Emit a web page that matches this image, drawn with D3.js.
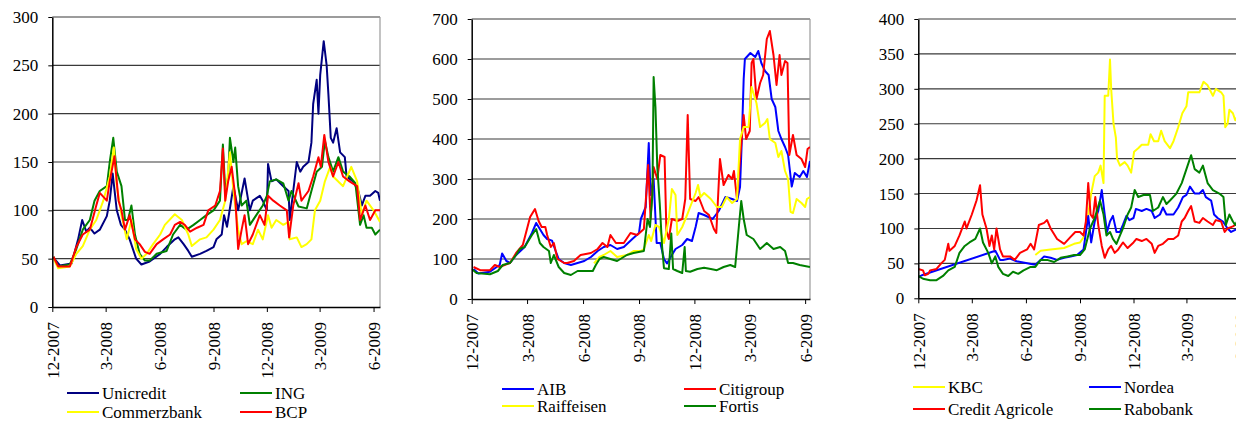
<!DOCTYPE html>
<html><head><meta charset="utf-8">
<script src="https://cdn.jsdelivr.net/npm/d3@7"></script>
<style>
body{margin:0;background:#fff;}
svg text{font-family:'Liberation Serif','Times New Roman',serif;fill:#000;}
</style>
</head><body>
<svg id="chart" width="1236" height="421"></svg>
<script>
// ---------- DATA ----------
const tickDates = ["2007-12-01","2008-03-01","2008-06-01","2008-09-01","2008-12-01","2009-03-01","2009-06-01"];
const tickLabels = ["12-2007","3-2008","6-2008","9-2008","12-2008","3-2009","6-2009"];
const yTicks1 = [0,50,100,150,200,250,300];
const yTicks2 = [0,100,200,300,400,500,600,700];
const yTicks3 = [0,50,100,150,200,250,300,350,400];

const names1 = ["Unicredit","ING","Commerzbank","BCP"];
const names2 = ["AIB","Citigroup","Raiffeisen","Fortis"];
const names3 = ["KBC","Nordea","Credit Agricole","Rabobank"];

const unicredit = [["2007-12-03",51],["2007-12-14",43],["2008-01-03",45],["2008-01-14",70],["2008-01-21",90],["2008-01-28",78],["2008-02-03",82],["2008-02-11",76],["2008-02-20",80],["2008-03-03",94],["2008-03-08",110],["2008-03-13",138],["2008-03-20",100],["2008-03-27",85],["2008-04-03",80],["2008-04-11",70],["2008-04-22",50],["2008-05-01",44],["2008-05-15",47],["2008-06-02",55],["2008-06-13",62],["2008-06-27",70],["2008-07-03",72],["2008-07-12",65],["2008-07-20",58],["2008-07-26",52],["2008-08-09",55],["2008-08-20",58],["2008-09-01",62],["2008-09-06",70],["2008-09-15",75],["2008-09-19",95],["2008-09-24",83],["2008-10-05",125],["2008-10-13",100],["2008-10-24",133],["2008-11-02",100],["2008-11-07",110],["2008-11-19",115],["2008-11-24",110],["2008-12-01",100],["2008-12-03",148],["2008-12-09",130],["2008-12-17",132],["2008-12-29",125],["2009-01-07",120],["2009-01-09",90],["2009-01-15",120],["2009-01-21",150],["2009-01-27",140],["2009-02-01",145],["2009-02-10",150],["2009-02-15",170],["2009-02-18",210],["2009-02-24",235],["2009-02-27",200],["2009-03-02",240],["2009-03-08",275],["2009-03-13",250],["2009-03-16",220],["2009-03-20",175],["2009-03-24",170],["2009-03-30",185],["2009-04-05",160],["2009-04-13",155],["2009-04-16",135],["2009-04-27",130],["2009-05-06",120],["2009-05-12",105],["2009-05-18",115],["2009-05-26",115],["2009-06-04",120],["2009-06-09",118],["2009-06-12",110]];
const ing = [["2007-12-03",52],["2007-12-11",42],["2007-12-31",44],["2008-01-11",60],["2008-01-22",80],["2008-02-03",90],["2008-02-11",110],["2008-02-20",120],["2008-03-03",125],["2008-03-08",150],["2008-03-14",175],["2008-03-20",140],["2008-03-28",125],["2008-04-03",90],["2008-04-08",90],["2008-04-14",105],["2008-04-20",75],["2008-04-28",55],["2008-05-07",48],["2008-05-15",48],["2008-05-27",55],["2008-06-13",58],["2008-06-24",75],["2008-07-06",85],["2008-07-17",80],["2008-07-29",85],["2008-08-09",90],["2008-08-20",95],["2008-09-01",100],["2008-09-12",110],["2008-09-17",168],["2008-09-21",120],["2008-09-26",135],["2008-09-29",175],["2008-10-05",150],["2008-10-08",165],["2008-10-13",125],["2008-10-19",105],["2008-10-27",110],["2008-11-02",85],["2008-11-13",95],["2008-11-24",105],["2008-12-01",115],["2008-12-06",130],["2008-12-17",132],["2008-12-29",128],["2009-01-07",110],["2009-01-12",120],["2009-01-24",104],["2009-02-07",102],["2009-02-15",120],["2009-02-24",140],["2009-03-05",145],["2009-03-10",172],["2009-03-16",155],["2009-03-24",140],["2009-04-02",155],["2009-04-10",140],["2009-04-21",135],["2009-05-01",128],["2009-05-09",85],["2009-05-15",95],["2009-05-20",82],["2009-05-29",82],["2009-06-04",75],["2009-06-12",80]];
const commerzbank = [["2007-12-03",50],["2007-12-11",40],["2007-12-31",42],["2008-01-11",55],["2008-01-22",63],["2008-02-03",80],["2008-02-14",90],["2008-02-26",110],["2008-03-08",135],["2008-03-15",165],["2008-03-20",125],["2008-03-28",95],["2008-04-06",70],["2008-04-14",90],["2008-04-22",60],["2008-05-01",50],["2008-05-10",55],["2008-05-21",65],["2008-06-02",75],["2008-06-10",85],["2008-06-27",96],["2008-07-09",90],["2008-07-20",75],["2008-07-26",63],["2008-08-09",70],["2008-08-20",72],["2008-09-01",80],["2008-09-12",90],["2008-09-21",110],["2008-09-29",160],["2008-10-05",120],["2008-10-13",80],["2008-10-19",65],["2008-10-27",68],["2008-11-07",65],["2008-11-16",80],["2008-11-24",70],["2008-12-03",95],["2008-12-09",82],["2008-12-17",90],["2008-12-29",85],["2009-01-07",88],["2009-01-09",70],["2009-01-21",72],["2009-01-29",62],["2009-02-07",65],["2009-02-15",70],["2009-02-21",100],["2009-03-02",110],["2009-03-10",130],["2009-03-19",145],["2009-03-24",135],["2009-04-10",125],["2009-04-24",145],["2009-05-04",130],["2009-05-12",95],["2009-05-20",110],["2009-06-01",100],["2009-06-12",88]];
const bcp = [["2007-12-03",52],["2007-12-11",42],["2007-12-31",42],["2008-01-11",62],["2008-01-22",75],["2008-02-03",80],["2008-02-14",105],["2008-02-20",118],["2008-03-03",110],["2008-03-08",130],["2008-03-16",156],["2008-03-23",110],["2008-03-28",100],["2008-04-03",80],["2008-04-11",95],["2008-04-20",70],["2008-04-28",65],["2008-05-07",57],["2008-05-15",55],["2008-05-27",65],["2008-06-07",70],["2008-06-19",75],["2008-06-27",85],["2008-07-06",88],["2008-07-14",85],["2008-07-23",78],["2008-08-04",82],["2008-08-15",85],["2008-08-23",100],["2008-09-04",105],["2008-09-12",120],["2008-09-17",164],["2008-09-21",110],["2008-09-26",130],["2008-10-02",145],["2008-10-08",115],["2008-10-13",60],["2008-10-19",80],["2008-10-24",95],["2008-10-30",65],["2008-11-07",75],["2008-11-19",95],["2008-11-27",85],["2008-12-03",115],["2008-12-12",110],["2008-12-23",105],["2009-01-04",100],["2009-01-08",72],["2009-01-15",105],["2009-01-24",128],["2009-01-29",110],["2009-02-10",120],["2009-02-18",135],["2009-02-27",155],["2009-03-03",145],["2009-03-09",178],["2009-03-16",150],["2009-03-24",135],["2009-04-02",150],["2009-04-10",135],["2009-04-21",130],["2009-05-04",125],["2009-05-09",90],["2009-05-18",105],["2009-05-26",90],["2009-06-04",100],["2009-06-12",100]];

const aib = [["2007-12-04",75],["2007-12-12",64],["2007-12-31",68],["2008-01-11",80],["2008-01-16",85],["2008-01-20",114],["2008-01-27",95],["2008-02-02",90],["2008-02-12",110],["2008-02-26",130],["2008-03-09",165],["2008-03-16",190],["2008-03-22",175],["2008-03-28",160],["2008-04-03",150],["2008-04-11",146],["2008-04-17",120],["2008-04-22",100],["2008-05-01",90],["2008-05-12",85],["2008-05-23",90],["2008-06-03",95],["2008-06-14",105],["2008-06-25",120],["2008-07-05",130],["2008-07-16",135],["2008-07-27",125],["2008-08-07",130],["2008-08-21",150],["2008-09-01",165],["2008-09-04",200],["2008-09-12",230],["2008-09-17",390],["2008-09-20",260],["2008-09-25",300],["2008-09-30",140],["2008-10-06",140],["2008-10-12",100],["2008-10-17",89],["2008-10-25",110],["2008-10-31",125],["2008-11-11",135],["2008-11-19",150],["2008-11-27",145],["2008-12-03",180],["2008-12-08",215],["2008-12-17",210],["2008-12-31",200],["2009-01-10",220],["2009-01-21",255],["2009-02-01",250],["2009-02-09",245],["2009-02-14",280],["2009-02-17",400],["2009-02-20",550],["2009-02-22",600],["2009-03-03",615],["2009-03-11",605],["2009-03-16",620],["2009-03-21",590],["2009-03-27",570],["2009-04-02",560],["2009-04-07",500],["2009-04-13",480],["2009-04-18",420],["2009-04-23",400],["2009-04-29",380],["2009-05-04",360],["2009-05-10",281],["2009-05-15",315],["2009-05-23",305],["2009-05-29",320],["2009-06-04",305],["2009-06-09",345]];
const citigroup = [["2007-12-04",80],["2007-12-15",72],["2007-12-31",72],["2008-01-08",85],["2008-01-16",80],["2008-01-24",85],["2008-02-02",90],["2008-02-12",115],["2008-02-23",135],["2008-03-06",205],["2008-03-14",225],["2008-03-20",195],["2008-03-25",180],["2008-03-31",180],["2008-04-03",160],["2008-04-09",130],["2008-04-14",140],["2008-04-20",100],["2008-05-01",90],["2008-05-06",90],["2008-05-17",95],["2008-05-28",110],["2008-06-14",115],["2008-06-25",125],["2008-07-03",140],["2008-07-11",130],["2008-07-16",160],["2008-07-25",140],["2008-08-07",140],["2008-08-18",165],["2008-08-29",160],["2008-09-09",175],["2008-09-16",335],["2008-09-20",200],["2008-09-25",330],["2008-10-01",300],["2008-10-06",360],["2008-10-13",355],["2008-10-16",170],["2008-10-20",150],["2008-10-25",200],["2008-11-03",195],["2008-11-11",200],["2008-11-16",250],["2008-11-20",460],["2008-11-24",250],["2008-12-03",245],["2008-12-08",255],["2008-12-17",220],["2008-12-25",210],["2009-01-02",175],["2009-01-06",165],["2009-01-12",350],["2009-01-18",285],["2009-01-26",310],["2009-02-01",300],["2009-02-04",320],["2009-02-09",250],["2009-02-14",350],["2009-02-20",460],["2009-02-24",400],["2009-03-02",420],["2009-03-05",590],["2009-03-08",600],["2009-03-13",500],["2009-03-19",540],["2009-03-24",560],["2009-03-30",650],["2009-04-04",670],["2009-04-10",610],["2009-04-15",535],["2009-04-20",610],["2009-04-23",560],["2009-04-29",595],["2009-05-03",590],["2009-05-06",360],["2009-05-12",410],["2009-05-18",360],["2009-05-26",350],["2009-06-01",330],["2009-06-05",375],["2009-06-09",380]];
const raiffeisen = [["2008-06-19",89],["2008-06-28",105],["2008-07-05",110],["2008-07-16",120],["2008-07-27",105],["2008-08-12",110],["2008-08-23",120],["2008-09-04",120],["2008-09-09",125],["2008-09-17",160],["2008-09-21",145],["2008-09-28",185],["2008-10-04",180],["2008-10-12",140],["2008-10-20",200],["2008-10-25",275],["2008-10-31",260],["2008-11-03",160],["2008-11-11",180],["2008-11-19",210],["2008-11-24",230],["2008-12-03",265],["2008-12-07",285],["2008-12-11",255],["2008-12-17",265],["2008-12-28",250],["2009-01-07",230],["2009-01-15",230],["2009-01-23",255],["2009-02-01",240],["2009-02-09",250],["2009-02-14",400],["2009-02-20",430],["2009-02-28",430],["2009-03-05",530],["2009-03-13",490],["2009-03-19",430],["2009-03-27",440],["2009-03-31",450],["2009-04-04",400],["2009-04-13",390],["2009-04-18",355],["2009-04-23",370],["2009-04-29",320],["2009-05-04",300],["2009-05-08",218],["2009-05-12",215],["2009-05-18",250],["2009-05-26",240],["2009-06-01",230],["2009-06-04",250],["2009-06-09",255]];
const fortis = [["2007-12-01",75],["2007-12-09",65],["2007-12-31",62],["2008-01-13",70],["2008-01-21",85],["2008-02-02",90],["2008-02-12",110],["2008-02-18",125],["2008-02-26",130],["2008-03-09",160],["2008-03-16",175],["2008-03-22",140],["2008-03-28",130],["2008-04-06",120],["2008-04-09",90],["2008-04-14",110],["2008-04-22",80],["2008-05-01",65],["2008-05-12",60],["2008-05-23",70],["2008-06-03",70],["2008-06-17",70],["2008-06-22",85],["2008-06-28",100],["2008-07-05",105],["2008-07-16",100],["2008-07-27",95],["2008-08-12",110],["2008-08-23",115],["2008-09-09",120],["2008-09-15",200],["2008-09-19",180],["2008-09-23",260],["2008-09-25",555],["2008-09-28",480],["2008-10-01",330],["2008-10-05",240],["2008-10-09",130],["2008-10-12",77],["2008-10-20",75],["2008-10-24",164],["2008-10-27",75],["2008-11-03",70],["2008-11-11",65],["2008-11-15",130],["2008-11-17",70],["2008-11-24",68],["2008-12-06",75],["2008-12-17",78],["2008-12-28",75],["2009-01-07",72],["2009-01-18",80],["2009-01-29",85],["2009-02-06",80],["2009-02-12",180],["2009-02-16",245],["2009-02-20",200],["2009-02-25",160],["2009-03-08",150],["2009-03-19",125],["2009-03-30",140],["2009-04-10",125],["2009-04-21",130],["2009-04-29",120],["2009-05-04",90],["2009-05-12",90],["2009-05-23",85],["2009-06-09",80]];

const kbc = [["2008-06-17",62],["2008-06-26",68],["2008-07-13",70],["2008-08-05",72],["2008-08-22",78],["2008-09-01",80],["2008-09-09",90],["2008-09-15",120],["2008-09-20",150],["2008-09-26",175],["2008-10-02",180],["2008-10-06",190],["2008-10-11",165],["2008-10-13",290],["2008-10-19",290],["2008-10-22",342],["2008-10-24",300],["2008-10-28",250],["2008-11-01",230],["2008-11-03",200],["2008-11-08",190],["2008-11-16",195],["2008-11-21",190],["2008-11-27",180],["2008-12-02",210],["2008-12-09",215],["2008-12-15",220],["2008-12-26",220],["2008-12-30",235],["2009-01-05",225],["2009-01-12",225],["2009-01-17",240],["2009-01-23",225],["2009-02-01",215],["2009-02-07",225],["2009-02-15",245],["2009-02-22",265],["2009-03-01",275],["2009-03-04",295],["2009-03-12",295],["2009-03-23",295],["2009-03-30",310],["2009-04-06",305],["2009-04-15",290],["2009-04-20",300],["2009-04-29",295],["2009-05-03",290],["2009-05-06",245],["2009-05-10",250],["2009-05-13",270],["2009-05-19",265],["2009-05-23",255],["2009-06-01",268],["2009-06-12",265]];
const nordea = [["2007-12-01",30],["2007-12-07",33],["2008-04-10",68],["2008-04-12",65],["2008-04-18",55],["2008-04-23",55],["2008-05-05",57],["2008-05-16",53],["2008-06-17",48],["2008-06-26",55],["2008-07-02",60],["2008-07-13",58],["2008-07-24",55],["2008-08-05",58],["2008-08-16",60],["2008-08-27",62],["2008-09-07",70],["2008-09-15",118],["2008-09-20",80],["2008-09-26",110],["2008-10-02",125],["2008-10-08",155],["2008-10-13",120],["2008-10-17",95],["2008-10-22",110],["2008-10-27",118],["2008-11-02",95],["2008-11-08",95],["2008-11-13",105],["2008-11-19",118],["2008-11-24",112],["2008-12-01",115],["2008-12-05",128],["2008-12-15",125],["2008-12-23",128],["2009-01-01",125],["2009-01-06",115],["2009-01-15",120],["2009-01-20",130],["2009-01-26",120],["2009-02-07",120],["2009-02-15",130],["2009-02-23",145],["2009-03-01",148],["2009-03-07",160],["2009-03-15",150],["2009-03-23",150],["2009-03-29",155],["2009-04-03",145],["2009-04-12",140],["2009-04-17",120],["2009-04-23",115],["2009-05-02",110],["2009-05-10",100],["2009-05-16",95],["2009-05-23",98],["2009-06-12",100]];
const creditAgricole = [["2007-12-01",42],["2007-12-09",40],["2007-12-12",33],["2007-12-18",35],["2007-12-21",40],["2008-01-01",42],["2008-01-09",50],["2008-01-15",55],["2008-01-21",78],["2008-01-23",68],["2008-02-01",75],["2008-02-09",90],["2008-02-18",110],["2008-02-21",100],["2008-03-01",120],["2008-03-09",140],["2008-03-15",162],["2008-03-19",120],["2008-03-26",100],["2008-03-31",75],["2008-04-04",90],["2008-04-08",70],["2008-04-12",100],["2008-04-18",70],["2008-04-23",60],["2008-05-05",60],["2008-05-13",55],["2008-05-22",65],["2008-06-03",70],["2008-06-09",78],["2008-06-15",70],["2008-06-23",105],["2008-07-02",108],["2008-07-07",112],["2008-07-13",100],["2008-07-24",85],["2008-08-05",78],["2008-08-16",88],["2008-08-24",95],["2008-09-01",95],["2008-09-07",90],["2008-09-11",110],["2008-09-15",165],["2008-09-19",120],["2008-09-23",115],["2008-09-27",145],["2008-10-02",105],["2008-10-08",75],["2008-10-13",58],["2008-10-19",70],["2008-10-24",75],["2008-10-30",65],["2008-11-05",70],["2008-11-13",80],["2008-11-21",72],["2008-12-01",80],["2008-12-06",85],["2008-12-15",82],["2008-12-23",85],["2009-01-01",78],["2009-01-06",65],["2009-01-12",75],["2009-01-20",78],["2009-01-29",85],["2009-02-07",85],["2009-02-15",90],["2009-02-21",110],["2009-02-26",115],["2009-03-04",125],["2009-03-09",132],["2009-03-15",110],["2009-03-23",108],["2009-03-29",115],["2009-04-06",110],["2009-04-15",105],["2009-04-20",112],["2009-04-29",110],["2009-05-05",95],["2009-05-10",100],["2009-05-19",103],["2009-05-23",105],["2009-06-12",105]];
const rabobank = [["2007-12-01",32],["2007-12-09",28],["2007-12-21",26],["2008-01-01",26],["2008-01-12",32],["2008-01-21",40],["2008-02-01",45],["2008-02-09",65],["2008-02-18",75],["2008-02-26",80],["2008-03-07",85],["2008-03-15",100],["2008-03-20",80],["2008-03-29",65],["2008-04-04",50],["2008-04-10",60],["2008-04-15",45],["2008-04-23",35],["2008-05-02",32],["2008-05-10",38],["2008-05-19",35],["2008-05-28",40],["2008-06-09",45],["2008-06-17",45],["2008-06-26",55],["2008-07-07",55],["2008-07-19",52],["2008-07-30",58],["2008-08-11",60],["2008-08-22",62],["2008-09-01",62],["2008-09-09",70],["2008-09-18",100],["2008-09-26",115],["2008-10-05",140],["2008-10-11",120],["2008-10-16",90],["2008-10-22",95],["2008-10-27",85],["2008-11-02",78],["2008-11-08",90],["2008-11-13",100],["2008-11-21",120],["2008-11-27",130],["2008-12-03",155],["2008-12-09",145],["2008-12-18",148],["2008-12-29",148],["2009-01-03",125],["2009-01-12",130],["2009-01-20",145],["2009-01-26",135],["2009-02-01",140],["2009-02-12",150],["2009-02-21",165],["2009-03-01",185],["2009-03-09",205],["2009-03-15",185],["2009-03-23",180],["2009-03-29",190],["2009-04-06",165],["2009-04-15",155],["2009-04-26",150],["2009-05-03",145],["2009-05-07",105],["2009-05-13",120],["2009-05-19",110],["2009-05-23",105],["2009-06-01",120],["2009-06-05",105],["2009-06-12",105]];

const colors1 = ["#000080","#008000","#ffff00","#ff0000"];
const colors2 = ["#0000ff","#ff0000","#ffff00","#008000"];
const colors3 = ["#ffff00","#0000ff","#ff0000","#008000"];

// ---------- DRAW ----------
const FONT = "'Liberation Serif', 'Times New Roman', serif";
const parse = d3.timeParse("%Y-%m-%d");
const svg = d3.select("#chart");

const panels = [
  {left:52.3, right:380, top:17, bottom:307, yTicks:yTicks1, end:"2009-06-12", border:true,
   names:names1, colors:colors1, data:[unicredit,ing,commerzbank,bcp], legX:[67,240], legY:[393,412]},
  {left:471.7, right:810, top:19, bottom:299, yTicks:yTicks2, end:"2009-06-09", border:true,
   names:names2, colors:colors2, data:[aib,citigroup,raiffeisen,fortis], legX:[502,684], legY:[389,406]},
  {left:918.3, right:1247, top:19, bottom:298.3, yTicks:yTicks3, end:"2009-06-12", border:false,
   names:names3, colors:colors3, data:[kbc,nordea,creditAgricole,rabobank], legX:[913,1089], legY:[387,409]}
];

panels.forEach((p, pi) => {
  const x = d3.scaleTime().domain([parse("2007-12-01"), parse(p.end)]).range([p.left, p.right]);
  const yMax = d3.max(p.yTicks);
  const y = d3.scaleLinear().domain([0, yMax]).range([p.bottom, p.top]);
  const g = svg.append("g");

  g.selectAll("line.grid").data(p.yTicks.filter(v => v > 0)).join("line")
    .attr("x1", p.left).attr("x2", p.right)
    .attr("y1", d => y(d)).attr("y2", d => y(d))
    .attr("stroke", "#3a3a3a").attr("stroke-width", 1.1);

  if (p.border) {
    g.append("line").attr("x1", p.right).attr("x2", p.right)
      .attr("y1", p.top).attr("y2", p.bottom)
      .attr("stroke", "#9a9a9a").attr("stroke-width", 1.2);
  }

  const cid = "clip" + pi;
  svg.append("clipPath").attr("id", cid).append("rect")
    .attr("x", p.left).attr("y", p.top - 5).attr("width", p.right - p.left).attr("height", p.bottom - p.top + 5);

  const line = d3.line().x(d => x(parse(d[0]))).y(d => y(d[1]));
  p.data.forEach((s, i) => {
    g.append("path").attr("d", line(s)).attr("fill", "none")
      .attr("stroke", p.colors[i]).attr("stroke-width", 2)
      .attr("stroke-linejoin", "round")
      .attr("clip-path", `url(#${cid})`);
  });

  const ya = g.append("g").attr("transform", `translate(${p.left},0)`)
    .call(d3.axisLeft(y).tickValues(p.yTicks).tickSize(4).tickSizeOuter(0).tickPadding(10).tickFormat(d3.format("d")));
  ya.attr("font-family", FONT).attr("font-size", 17);
  ya.selectAll("text").style("font-family", FONT).style("font-size", "17px");
  ya.selectAll("line").attr("stroke", "#000");
  ya.select(".domain").attr("stroke", "#000").attr("stroke-width", 1.5);

  const xa = g.append("g").attr("transform", `translate(0,${p.bottom})`)
    .call(d3.axisBottom(x).tickValues(tickDates.map(parse)).tickSize(5).tickSizeOuter(0)
      .tickFormat((d, i) => tickLabels[i]));
  xa.attr("font-family", FONT).attr("font-size", 17);
  xa.select(".domain").attr("stroke", "#000").attr("stroke-width", 1.5);
  xa.selectAll("line").attr("stroke", "#000");
  xa.selectAll("text")
    .style("font-family", FONT).style("font-size", "17px")
    .attr("text-anchor", "end")
    .attr("transform", "rotate(-90)")
    .attr("x", -15).attr("y", 0).attr("dy", "0.35em");

  p.names.forEach((n, i) => {
    const lx = p.legX[i % 2], ly = p.legY[Math.floor(i / 2)];
    svg.append("line").attr("x1", lx).attr("x2", lx + 32).attr("y1", ly).attr("y2", ly)
      .attr("stroke", p.colors[i]).attr("stroke-width", 2);
    svg.append("text").attr("x", lx + 35).attr("y", ly).attr("dy", "0.35em")
      .style("font-family", FONT).style("font-size", "17px").text(n);
  });
});
</script>
</body></html>
